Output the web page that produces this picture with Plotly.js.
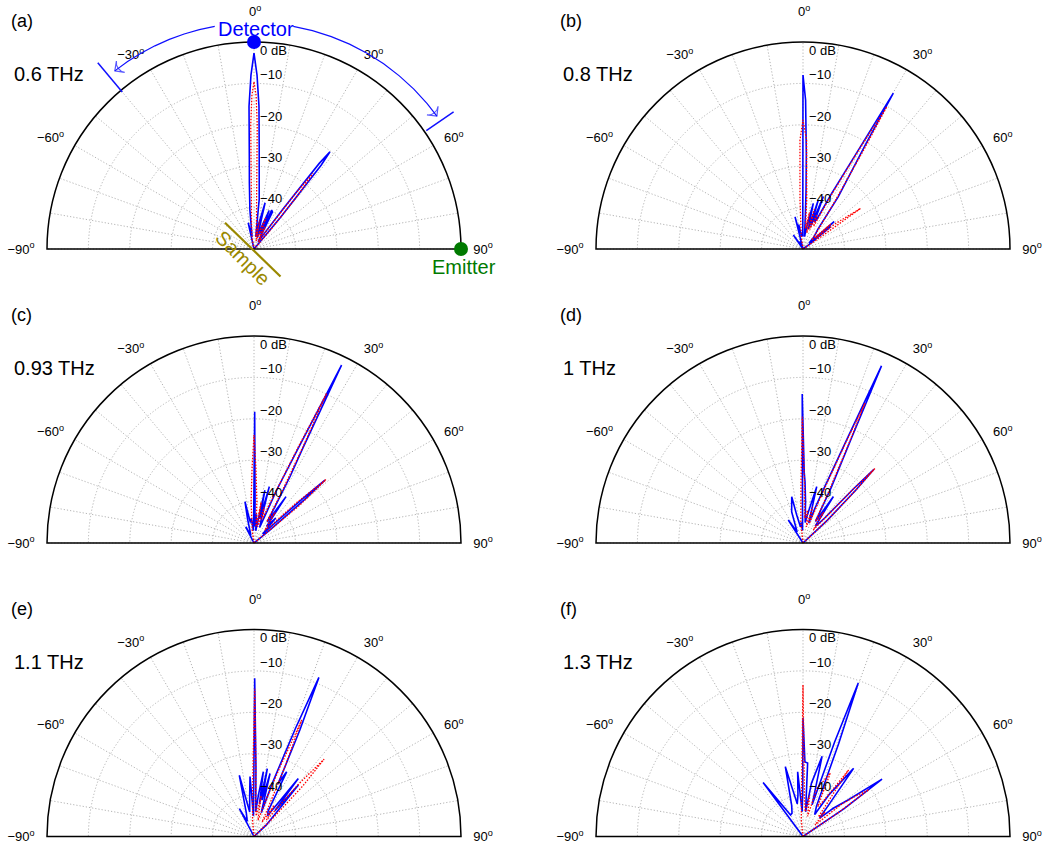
<!DOCTYPE html>
<html>
<head>
<meta charset="utf-8">
<script src="https://cdn.plot.ly/plotly-3.0.1.min.js"></script>
<style>html,body{margin:0;padding:0;background:#fff;}#chart{width:1044px;height:848px;}</style>
</head>
<body>
<div id="chart"></div>
<script>
// ---------- Data (angle in degrees, level in dB) ----------
const panelLabels = ["(a)", "(b)", "(c)", "(d)", "(e)", "(f)"];
const freqLabels = ["0.6 THz", "0.8 THz", "0.93 THz", "1 THz", "1.1 THz", "1.3 THz"];

const angTickVals = [-90,-80,-70,-60,-50,-40,-30,-20,-10,0,10,20,30,40,50,60,70,80,90];
const angTickText = ["\u221290<sup>o</sup>","","","\u221260<sup>o</sup>","","","\u221230<sup>o</sup>","","","","","","30<sup>o</sup>","","","60<sup>o</sup>","","","90<sup>o</sup>"];
const zeroAngleLabel = "0<sup>o</sup>";
const radTickVals = [-40,-30,-20,-10,0];
const radTickText = ["\u221240<br>\u00a0","\u221230<br>\u00a0","\u221220<br>\u00a0","\u221210<br>\u00a0","\u00a0<br>0 dB"];

// (a) 0.6 THz
const thetaA_meas = [-90,-30,-16,-12.5,-9,-6,-4,-3,-2,-1,0,1,2,3,4,6,8,10.5,13.5,16,19,21.5,23,24.5,26.5,29,33,36,37.3,38,38.7,40,44,90];
const rA_meas     = [-50,-50,-50,-43.5,-47,-40.5,-34,-28.5,-15.5,-8,-2.7,-8,-15.5,-26,-32,-38,-47,-44,-38.5,-47,-44,-40,-46,-39.7,-40,-48,-46,-38,-24,-20.2,-24,-40,-50,-50];
const thetaA_sim  = [-90,-20,-10,-5,-3,-2,-1.5,-0.8,0,0.8,1.5,2,3,5,9,11,14,18,21,24,27,31,35,36.8,38,39.2,41,45,90];
const rA_sim      = [-50,-50,-47,-43,-38,-30,-20,-13,-9.6,-13,-20,-30,-38,-43,-47,-43,-48,-45,-42,-47,-44,-48,-44,-33,-26.8,-33,-44,-50,-50];

// (b) 0.8 THz
const thetaB_meas = [-90,-40,-34.7,-30,-22,-18,-13.9,-12,-10,-6,-3,-1,0,1,2,3,4,7,10,12.7,15,17.3,19,21.2,23,25,27.3,29.4,30.1,30.9,34,37,42,46,48.6,50,51.2,54,60,90];
const rB_meas     = [-50,-50,-45.9,-49,-48,-50,-42,-46,-44,-47,-46,-47,-8,-14,-27,-36,-42,-47,-44,-38.7,-45,-37.6,-44,-36.4,-43,-42,-34.9,-20.8,-6.5,-20.3,-34.8,-44,-46,-48,-40,-45,-41.4,-48,-50,-50];
const thetaB_sim  = [-90,-15,-8,-3.5,-1.6,0,1.9,4.3,7,10,13,16,19,22,25,27.5,29.4,30.5,31.5,34,38,44,48,50,52,54.8,56,60,90];
const rB_sim      = [-50,-50,-47,-38,-23.7,-18.8,-23.7,-38,-45,-41,-46,-40,-45,-41,-44,-36,-22,-10.1,-22,-37,-44,-47,-41,-46,-40,-33,-45,-50,-50];

// (c) 0.93 THz
const thetaC_meas = [-90,-35,-27,-22,-15,-12.3,-10,-6,-3,-1,0.3,1.5,3,5,8,11.7,13.5,15.2,17,20,23.2,25,26.2,27.3,28.5,30,32,34.6,37,41,44,46,47.6,48.4,49.3,51,55,90];
const rC_meas     = [-50,-50,-45.6,-48,-44,-39.8,-45,-44,-47,-45,-18.3,-40,-46,-43,-47,-37,-44,-35.9,-44,-46,-36,-25.2,-2.1,-24.7,-31.8,-40,-44,-36.4,-45,-42,-47,-44,-34,-27.1,-34,-45,-50,-50];
const thetaC_sim  = [-90,-15,-8,-4,-1.5,0,1.5,4,7,10,13,16,19,22.5,24.8,25.9,27,28.5,31,35,40,44,46.5,48.6,50.5,53,90];
const rC_sim      = [-50,-50,-47,-40,-32,-23.9,-32,-40,-46,-40,-46,-41,-44,-38,-24,-9.8,-24,-36,-44,-41,-46,-44,-36,-26.8,-36,-50,-50];

// (d) 1 THz
const thetaD_meas = [-90,-38,-32.6,-28,-20,-13.7,-12.7,-9,-5,-2,-0.3,1,1.9,3.5,6,9,13.7,16,19,21,23,23.9,24.8,27,30,33.2,36,39,41,43,43.9,45,47,52,90];
const rD_meas     = [-50,-50,-43.4,-47,-42,-38.5,-43,-46,-45,-47,-14,-33,-35.2,-40,-45,-43,-36,-45,-41,-36,-22,-3.2,-22,-35,-44,-36.6,-45,-44,-42,-32,-25.3,-32,-42,-50,-50];
const thetaD_sim  = [-90,-12,-6,-2,-0.3,1.5,4,8,12,15,18,21.5,23,23.9,24.8,26.5,30,34,38,41.5,43,44,45,47,52,90];
const rD_sim      = [-50,-50,-45,-36,-19.5,-36,-44,-42,-46,-41,-45,-36,-24,-13,-24,-36,-44,-41,-46,-41,-32,-25,-32,-42,-50,-50];

// (e) 1.1 THz
const thetaE_meas = [-90,-35,-27.7,-24,-18,-13.5,-10,-6,-3.8,-1.5,0.25,1.6,4,6,8.2,9.5,11.1,12.5,14.3,17,19,21,22.2,23.3,24.5,26.8,29,33,37.4,39,40.8,43,47,55,90];
const rE_meas     = [-50,-50,-42.4,-46,-44,-34.8,-44,-40,-35.5,-45,-11.8,-33.2,-44,-40,-34.2,-42,-33.3,-41,-34.3,-44,-36,-22,-8.5,-22,-36,-32.5,-43,-44,-32.4,-42,-33.6,-42,-46,-50,-50];
const thetaE_sim  = [-90,-10,-5,-2,-0.5,0.3,1.2,3,6,10,14,18,20.5,22.3,24,26,29,33,37,40.5,42.2,44,46,50,90];
const rE_sim      = [-50,-50,-46,-40,-30,-14.3,-30,-42,-45,-40,-46,-41,-32,-19.6,-32,-42,-46,-41,-45,-33,-24.8,-33,-44,-50,-50];

// (f) 1.3 THz
const thetaF_meas = [-90,-45,-36.5,-30,-25.3,-20,-14.2,-10,-7,-4.7,-2,-0.5,0,1.5,3.6,6,9,13.4,16,18.5,19.8,21,24,28,32,36.6,39,42,47,51,54,56,60,90];
const rF_meas     = [-50,-50,-33.8,-44,-43.8,-42,-32.6,-42,-40,-34.3,-44,-40,-21.4,-32,-32.2,-44,-37,-30.1,-42,-26,-10.6,-26,-42,-44,-38,-29.5,-40,-44,-40,-36,-26.4,-38,-50,-50];
const thetaF_sim  = [-90,-12,-6,-2,-0.5,0,0.5,2,5,9,13,16,19.8,23.3,26,30,34.4,38,42,46,50,52.5,54.6,56,60,90];
const rF_sim      = [-50,-50,-46,-40,-28,-13.4,-28,-40,-44,-40,-45,-38,-36,-33.3,-42,-40,-30.5,-44,-42,-46,-38,-34,-30.5,-40,-50,-50];

const measTheta = [thetaA_meas, thetaB_meas, thetaC_meas, thetaD_meas, thetaE_meas, thetaF_meas];
const measR     = [rA_meas, rB_meas, rC_meas, rD_meas, rE_meas, rF_meas];
const simTheta  = [thetaA_sim, thetaB_sim, thetaC_sim, thetaD_sim, thetaE_sim, thetaF_sim];
const simR      = [rA_sim, rB_sim, rC_sim, rD_sim, rE_sim, rF_sim];

// Annotation geometry for panel (a): detector sweep arcs (angle deg, level dB beyond the 0 dB rim)
const arcLeftTheta  = [-10,-14,-18,-22,-26,-30,-34,-38];
const arcLeftR      = [4.6,4.6,4.6,4.6,4.6,4.6,4.6,4.6];
const arcRightTheta = [10,15,20,25,30,35,40,45,50,54];
const arcRightR     = [4.6,4.6,4.6,4.6,4.6,4.6,4.6,4.6,4.6,4.6];
const tickLeftTheta = [-40,-40], tickLeftR = [-0.5,8.7];
const tickRightTheta = [55.5,55.5], tickRightR = [0.5,8.5];

// ---------- Layout helpers ----------
const W = 1044, H = 848, RPX = 207;
const centersX = [254, 803];
const centersY = [249, 543, 836.5];
const FONT = "Liberation Sans, Arial, Helvetica, sans-serif";
const GRID = '#b4b4b4';

function polarCfg(cx, cy) {
  return {
    domain: { x: [(cx - RPX) / W, (cx + RPX) / W], y: [(H - cy) / H, (H - cy + RPX) / H] },
    sector: [0, 180],
    bgcolor: 'rgba(0,0,0,0)',
    angularaxis: {
      rotation: 90, direction: 'clockwise',
      tickmode: 'array', tickvals: angTickVals, ticktext: angTickText,
      showline: true, linecolor: '#000', linewidth: 1.5,
      showgrid: true, gridcolor: GRID, griddash: '1.2px,2px', gridwidth: 1,
      ticks: 'outside', ticklen: 9, tickcolor: 'rgba(0,0,0,0)',
      tickfont: { family: FONT, size: 13, color: '#000' }
    },
    radialaxis: {
      range: [-50, 0], angle: 90, side: 'clockwise',
      tickmode: 'array', tickvals: radTickVals, ticktext: radTickText,
      showline: false, showgrid: true, gridcolor: GRID, griddash: '1.2px,2px', gridwidth: 1,
      ticks: 'outside', ticklen: 3, tickcolor: 'rgba(0,0,0,0)', tickangle: 90,
      tickfont: { family: FONT, size: 13, color: '#000' }
    }
  };
}

const layout = {
  width: W, height: H,
  margin: { l: 0, r: 0, t: 0, b: 0 },
  paper_bgcolor: '#fff',
  showlegend: false,
  font: { family: FONT, color: '#000' },
  annotations: [],
  shapes: []
};

const traces = [];
for (let i = 0; i < 6; i++) {
  const col = i % 2, row = Math.floor(i / 2);
  const cx = centersX[col], cy = centersY[row];
  const key = i === 0 ? 'polar' : 'polar' + (i + 1);
  layout[key] = polarCfg(cx, cy);
  traces.push({
    type: 'scatterpolar', subplot: key, mode: 'lines',
    theta: measTheta[i], r: measR[i],
    line: { color: '#0000ff', width: 1.6 }, hoverinfo: 'skip'
  });
  traces.push({
    type: 'scatterpolar', subplot: key, mode: 'lines',
    theta: simTheta[i], r: simR[i],
    line: { color: '#ff0000', width: 1.3, dash: '1.5px,1.5px' }, hoverinfo: 'skip'
  });
  layout.annotations.push({
    xref: 'paper', yref: 'paper', x: (cx - 245) / W, y: 1 - (cy - 228) / H,
    xanchor: 'left', yanchor: 'middle', showarrow: false,
    text: panelLabels[i], font: { family: FONT, size: 18, color: '#000' }
  });
  layout.annotations.push({
    xref: 'paper', yref: 'paper', x: (cx - 242) / W, y: 1 - (cy - 175) / H,
    xanchor: 'left', yanchor: 'middle', showarrow: false,
    text: freqLabels[i], font: { family: FONT, size: 20, color: '#000' }
  });
  // 0-degree label sits slightly higher than the other angle labels (room for "0 dB")
  layout.annotations.push({
    xref: 'paper', yref: 'paper', x: (cx + 1) / W, y: 1 - (cy - 238) / H,
    xanchor: 'center', yanchor: 'middle', showarrow: false, borderpad: 0,
    text: zeroAngleLabel, font: { family: FONT, size: 13, color: '#000' }
  });
}

// Overlay polar for the sketch decorations of panel (a) (extends beyond 0 dB rim)
const decoMax = 10, R7 = RPX * (decoMax + 50) / 50;
layout.polar7 = {
  domain: { x: [(254 - R7) / W, (254 + R7) / W], y: [(H - 249) / H, Math.min(1, (H - 249 + R7) / H)] },
  sector: [0, 180],
  bgcolor: 'rgba(0,0,0,0)',
  angularaxis: { rotation: 90, direction: 'clockwise', visible: false, showgrid: false, showline: false },
  radialaxis: { range: [-50, decoMax], visible: false, showgrid: false, showline: false }
};
const blueDeco = '#1010ff';
traces.push({ type: 'scatterpolar', subplot: 'polar7', mode: 'lines+markers', theta: arcLeftTheta, r: arcLeftR,
  line: { color: blueDeco, width: 1.2 }, hoverinfo: 'skip',
  marker: { symbol: 'arrow-wide-open', angleref: 'previous', size: arcLeftR.map((v, k) => k === arcLeftR.length - 1 ? 10 : 0), color: blueDeco, line: { color: blueDeco, width: 1.2 } } });
traces.push({ type: 'scatterpolar', subplot: 'polar7', mode: 'lines+markers', theta: arcRightTheta, r: arcRightR,
  line: { color: blueDeco, width: 1.2 }, hoverinfo: 'skip',
  marker: { symbol: 'arrow-wide-open', angleref: 'previous', size: arcRightR.map((v, k) => k === arcRightR.length - 1 ? 10 : 0), color: blueDeco, line: { color: blueDeco, width: 1.2 } } });
traces.push({ type: 'scatterpolar', subplot: 'polar7', mode: 'lines', theta: tickLeftTheta, r: tickLeftR,
  line: { color: blueDeco, width: 1.5 }, hoverinfo: 'skip' });
traces.push({ type: 'scatterpolar', subplot: 'polar7', mode: 'lines', theta: tickRightTheta, r: tickRightR,
  line: { color: blueDeco, width: 1.5 }, hoverinfo: 'skip' });
traces.push({ type: 'scatterpolar', subplot: 'polar7', mode: 'markers', theta: [0], r: [0],
  marker: { color: '#0000ff', size: 14 }, hoverinfo: 'skip' });
traces.push({ type: 'scatterpolar', subplot: 'polar7', mode: 'markers', theta: [90], r: [0],
  marker: { color: '#007a00', size: 14 }, hoverinfo: 'skip' });

// Text labels for panel (a)
layout.annotations.push({ xref: 'paper', yref: 'paper', x: 256 / W, y: 1 - 28.5 / H, showarrow: false,
  xanchor: 'center', yanchor: 'middle', borderpad: 0,
  text: 'Detector', font: { family: FONT, size: 20, color: '#0000ff' } });
layout.annotations.push({ xref: 'paper', yref: 'paper', x: 464 / W, y: 1 - 267 / H, showarrow: false,
  xanchor: 'center', yanchor: 'middle',
  text: 'Emitter', font: { family: FONT, size: 20, color: '#007a00' } });
layout.annotations.push({ xref: 'paper', yref: 'paper', x: 243 / W, y: 1 - 258 / H, showarrow: false,
  xanchor: 'center', yanchor: 'middle',
  text: 'Sample', textangle: 45, font: { family: FONT, size: 20, color: '#998800' } });
layout.shapes.push({ type: 'line', xref: 'paper', yref: 'paper',
  x0: 225 / W, y0: 1 - 222.7 / H, x1: 280.5 / W, y1: 1 - 276.5 / H,
  line: { color: '#998800', width: 2.2 } });

Plotly.newPlot('chart', traces, layout, { staticPlot: true, displayModeBar: false });
</script>
</body>
</html>
